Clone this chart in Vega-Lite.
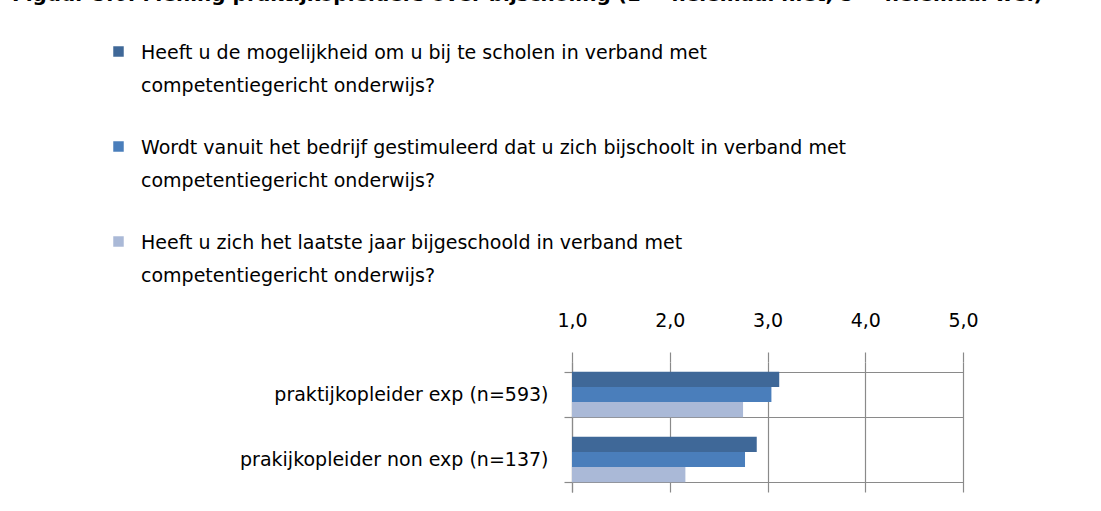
{
  "$schema": "https://vega.github.io/schema/vega-lite/v6.json",
  "autosize": {"type": "none"},
  "width": 391,
  "height": 130,
  "padding": {"left": 572, "top": 362, "right": 138, "bottom": 19},
  "background": "white",
  "title": {
    "text": "Figuur 5.6: Mening praktijkopleiders over bijscholing (1 = helemaal niet, 5 = helemaal wel)",
    "anchor": "start",
    "frame": "group",
    "font": "DejaVu Sans",
    "fontWeight": "bold",
    "fontSize": 20,
    "color": "black",
    "dx": -560,
    "dy": -33
  },
  "data": {
    "values": [
      {"groep": "praktijkopleider exp (n=593)", "vraag": "Heeft u de mogelijkheid om u bij te scholen in verband met competentiegericht onderwijs?", "score": 3.12},
      {"groep": "praktijkopleider exp (n=593)", "vraag": "Wordt vanuit het bedrijf gestimuleerd dat u zich bijschoolt in verband met competentiegericht onderwijs?", "score": 3.04},
      {"groep": "praktijkopleider exp (n=593)", "vraag": "Heeft u zich het laatste jaar bijgeschoold in verband met competentiegericht onderwijs?", "score": 2.75},
      {"groep": "prakijkopleider non exp (n=137)", "vraag": "Heeft u de mogelijkheid om u bij te scholen in verband met competentiegericht onderwijs?", "score": 2.89},
      {"groep": "prakijkopleider non exp (n=137)", "vraag": "Wordt vanuit het bedrijf gestimuleerd dat u zich bijschoolt in verband met competentiegericht onderwijs?", "score": 2.77},
      {"groep": "prakijkopleider non exp (n=137)", "vraag": "Heeft u zich het laatste jaar bijgeschoold in verband met competentiegericht onderwijs?", "score": 2.16}
    ]
  },
  "mark": {"type": "bar"},
  "encoding": {
    "y": {
      "field": "groep",
      "type": "nominal",
      "sort": null,
      "title": null,
      "scale": {"paddingInner": 0.3, "paddingOuter": 0.15},
      "axis": {
        "tickBand": "extent",
        "grid": true,
        "gridColor": "#8a8a8a",
        "gridWidth": 1.2,
        "domainColor": "#8a8a8a",
        "domainWidth": 1.2,
        "tickColor": "#8a8a8a",
        "tickWidth": 1.2,
        "tickSize": 8,
        "labelPadding": 16,
        "labelFont": "DejaVu Sans",
        "labelFontSize": 19,
        "labelColor": "black",
        "labelLimit": 500
      }
    },
    "yOffset": {
      "field": "vraag",
      "type": "nominal",
      "sort": null,
      "scale": {"paddingInner": 0, "paddingOuter": 0}
    },
    "x": {
      "field": "score",
      "type": "quantitative",
      "title": null,
      "scale": {"domain": [1, 5], "nice": false, "zero": false},
      "axis": {
        "orient": "top",
        "values": [1, 2, 3, 4, 5],
        "format": ".1f",
        "labelExpr": "replace(datum.label, '.', ',')",
        "labelFlush": false,
        "grid": true,
        "gridColor": "#8a8a8a",
        "gridWidth": 1.2,
        "domain": false,
        "tickColor": "#8a8a8a",
        "tickWidth": 1.2,
        "tickSize": 10,
        "labelPadding": 22,
        "labelFont": "DejaVu Sans",
        "labelFontSize": 19,
        "labelColor": "black"
      }
    },
    "x2": {"datum": 1},
    "color": {
      "field": "vraag",
      "type": "nominal",
      "scale": {
        "domain": [
          "Heeft u de mogelijkheid om u bij te scholen in verband met competentiegericht onderwijs?",
          "Wordt vanuit het bedrijf gestimuleerd dat u zich bijschoolt in verband met competentiegericht onderwijs?",
          "Heeft u zich het laatste jaar bijgeschoold in verband met competentiegericht onderwijs?"
        ],
        "range": ["#3F6898", "#4A7EBB", "#AAB9D7"]
      },
      "legend": {
        "title": null,
        "orient": "none",
        "legendX": -463,
        "legendY": -320,
        "symbolType": "square",
        "symbolSize": 110,
        "symbolStrokeWidth": 0,
        "labelFont": "DejaVu Sans",
        "labelFontSize": 19,
        "labelColor": "black",
        "labelLimit": 1000,
        "labelBaseline": "top",
        "labelOffset": 13,
        "rowPadding": 41,
        "labelExpr": "[replace(datum.label, ' competentiegericht onderwijs?', ''), 'competentiegericht onderwijs?']",
        "encode": {"labels": {"update": {"lineHeight": {"value": 33}, "dy": {"value": -8}}}}
      }
    }
  },
  "config": {"view": {"stroke": null}}
}
